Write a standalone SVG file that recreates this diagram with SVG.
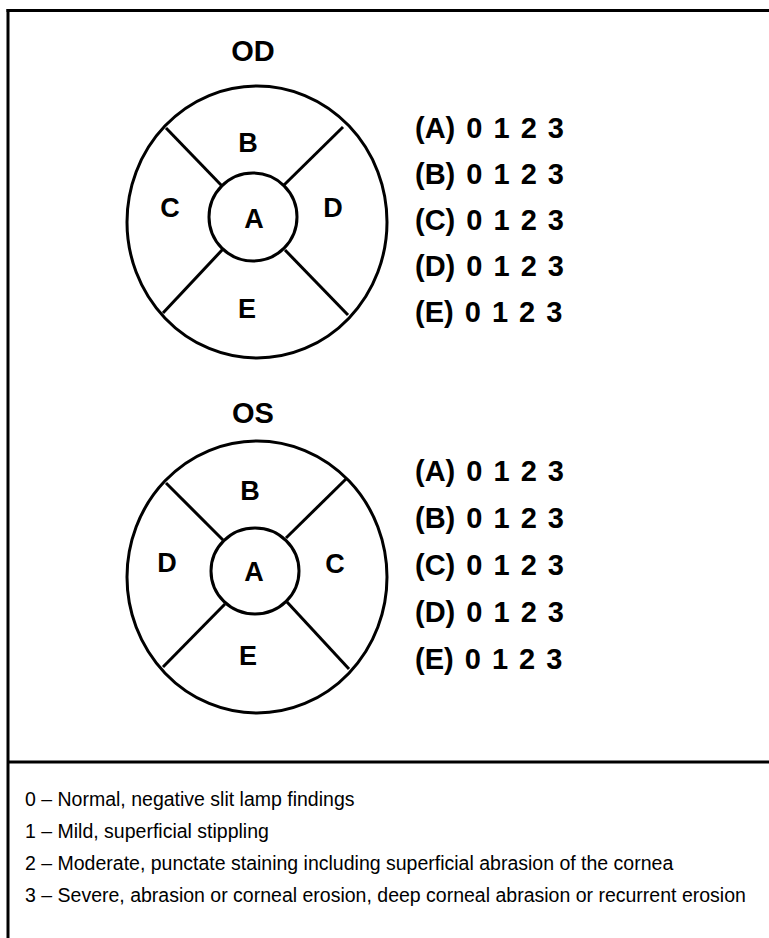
<svg xmlns="http://www.w3.org/2000/svg" width="769" height="938" viewBox="0 0 769 938">
<style>
.ln{stroke:#000;stroke-width:3;fill:none}
.cir{stroke:#000;stroke-width:3;fill:#fff}
.ttl{font-family:"Liberation Sans",Arial,sans-serif;font-weight:bold;font-size:29px;text-anchor:middle;fill:#000}
.lbl{font-family:"Liberation Sans",Arial,sans-serif;font-weight:bold;font-size:27px;text-anchor:middle;fill:#000}
.sc{font-family:"Liberation Sans",Arial,sans-serif;font-weight:bold;font-size:29px;word-spacing:3px;fill:#000}
.key{font-family:"Liberation Sans",Arial,sans-serif;font-size:19.5px;fill:#000}
</style>
<rect width="769" height="938" fill="#fff"/>
<g id="frame">
<line class="ln" x1="6.5" y1="10.5" x2="769" y2="10.5"/>
<line class="ln" x1="8" y1="9" x2="8" y2="938"/>
<line class="ln" x1="8" y1="762" x2="769" y2="762"/>
</g>
<g id="od">
<text class="ttl" x="253" y="61">OD</text>
<ellipse class="cir" cx="257" cy="222" rx="130" ry="136"/>
<g class="spokes">
<line class="ln" x1="166" y1="128" x2="223" y2="187"/>
<line class="ln" x1="343" y1="127" x2="284" y2="185"/>
<line class="ln" x1="163" y1="313" x2="223" y2="249"/>
<line class="ln" x1="348" y1="315" x2="285" y2="250"/>
</g>
<ellipse class="cir" cx="253" cy="217" rx="44" ry="44"/>
<text class="lbl" x="248" y="152">B</text>
<text class="lbl" x="170" y="217">C</text>
<text class="lbl" x="254" y="228">A</text>
<text class="lbl" x="333" y="217">D</text>
<text class="lbl" x="247" y="318">E</text>
</g>
<g id="od-scores">
<text class="sc" x="415" y="138">(A) 0 1 2 3</text>
<text class="sc" x="415" y="184">(B) 0 1 2 3</text>
<text class="sc" x="415" y="230">(C) 0 1 2 3</text>
<text class="sc" x="415" y="276">(D) 0 1 2 3</text>
<text class="sc" x="415" y="322">(E) 0 1 2 3</text>
</g>
<g id="os">
<text class="ttl" x="253" y="423">OS</text>
<ellipse class="cir" cx="257" cy="577" rx="130" ry="136"/>
<g class="spokes">
<line class="ln" x1="166" y1="483" x2="223" y2="540"/>
<line class="ln" x1="346" y1="479" x2="286" y2="538"/>
<line class="ln" x1="163" y1="667" x2="225" y2="604"/>
<line class="ln" x1="349" y1="669" x2="287" y2="602"/>
</g>
<ellipse class="cir" cx="255" cy="571" rx="44" ry="43"/>
<text class="lbl" x="250" y="500">B</text>
<text class="lbl" x="167" y="572">D</text>
<text class="lbl" x="254" y="581">A</text>
<text class="lbl" x="335" y="573">C</text>
<text class="lbl" x="248" y="665">E</text>
</g>
<g id="os-scores">
<text class="sc" x="415" y="481">(A) 0 1 2 3</text>
<text class="sc" x="415" y="528">(B) 0 1 2 3</text>
<text class="sc" x="415" y="575">(C) 0 1 2 3</text>
<text class="sc" x="415" y="622">(D) 0 1 2 3</text>
<text class="sc" x="415" y="669">(E) 0 1 2 3</text>
</g>
<g id="key">
<text class="key" x="25" y="806">0 – Normal, negative slit lamp findings</text>
<text class="key" x="25" y="838">1 – Mild, superficial stippling</text>
<text class="key" x="25" y="870">2 – Moderate, punctate staining including superficial abrasion of the cornea</text>
<text class="key" x="25" y="902">3 – Severe, abrasion or corneal erosion, deep corneal abrasion or recurrent erosion</text>
</g>
</svg>
